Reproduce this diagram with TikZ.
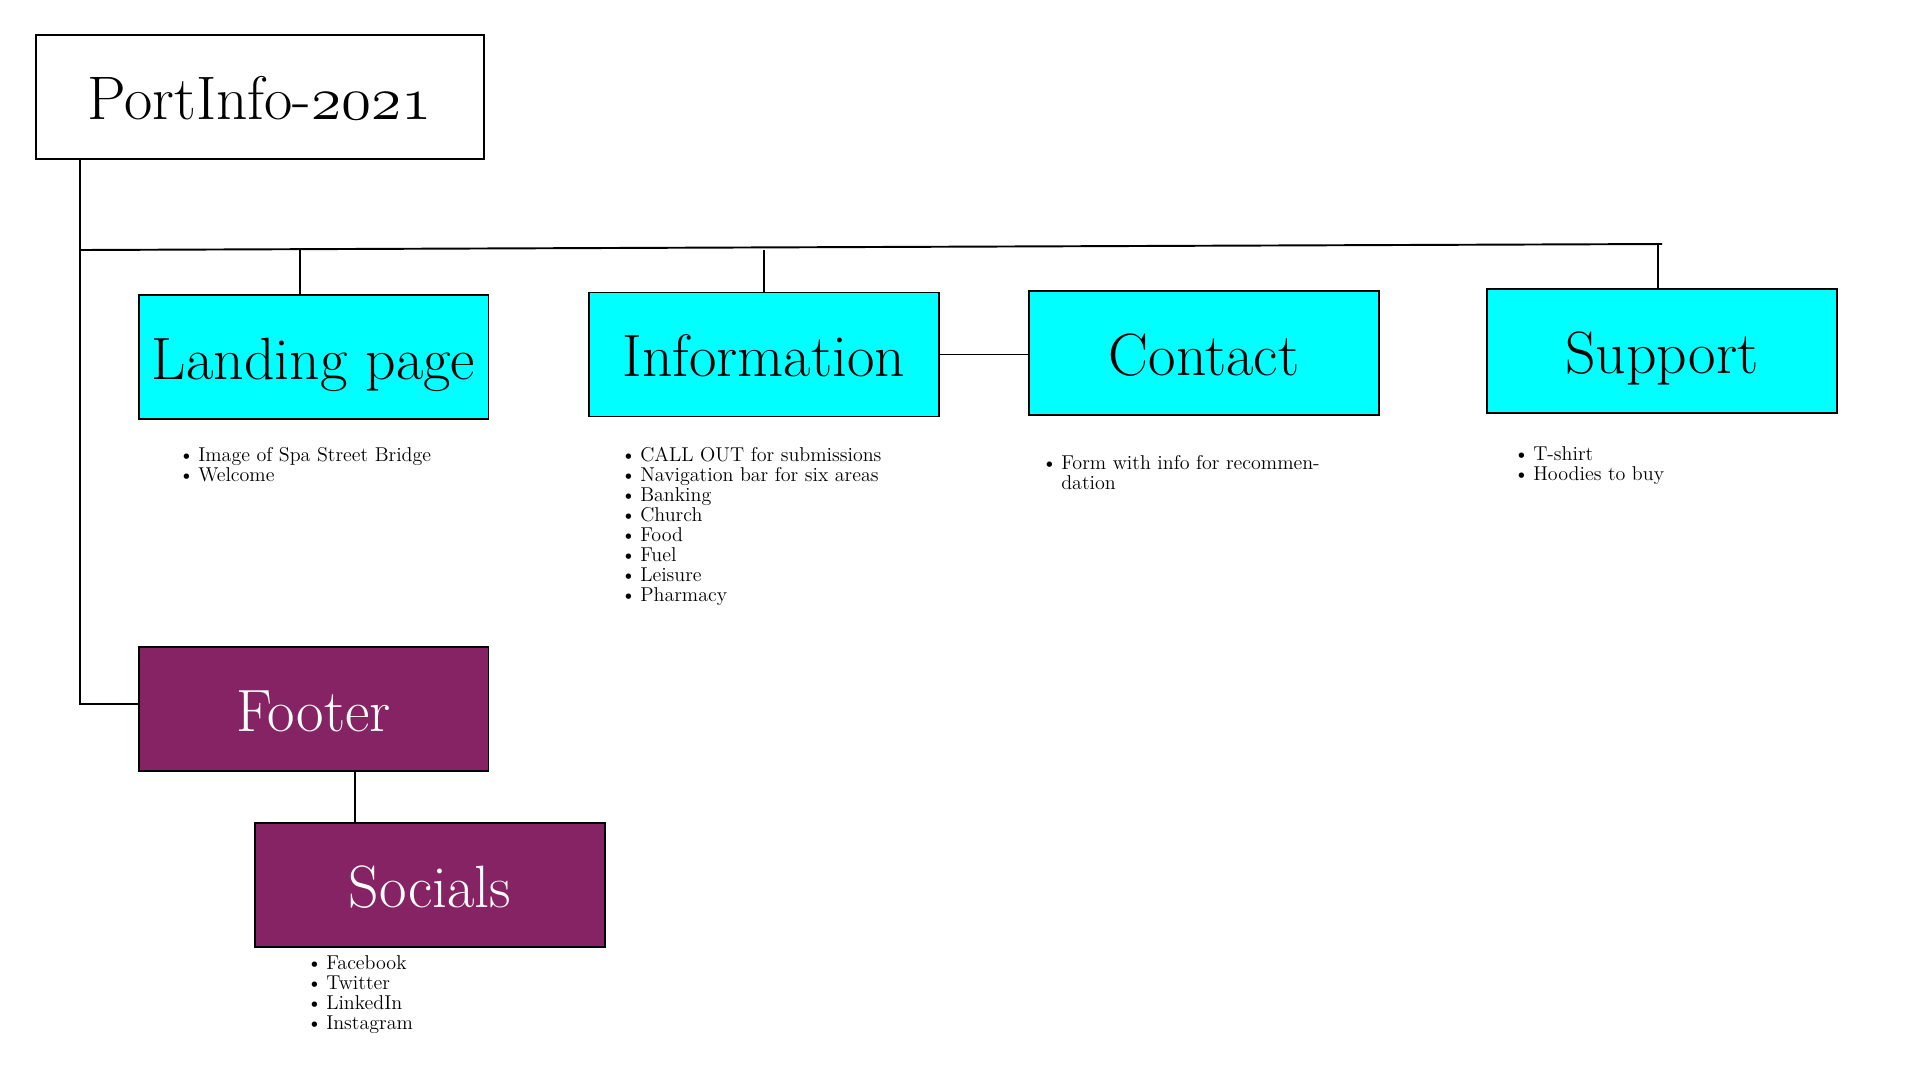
\RequirePackage{fix-cm}
\documentclass[tikz,border=0pt]{standalone}
\definecolor{pagecyan}{RGB}{0, 255, 255}
\definecolor{footplum}{RGB}{134, 35, 100}
\usepackage{tikz}
\usetikzlibrary{positioning, calc}
\newcommand{\itm}{\makebox[11pt][l]{\textbullet}}
\newcommand{\osnum}[1]{{\usefont{OML}{cmm}{m}{it}#1}}

\begin{document}
\begin{tikzpicture}[x=0.02cm, y=-0.02cm, line width=1.1pt,
  sitebox/.style={draw, line width=1.1pt, minimum width=7cm, minimum height=2.48cm,
                  inner sep=0pt, text height=25.5pt, text depth=0pt,
                  font=\fontsize{34}{40}\selectfont},
  pagebox/.style={sitebox, fill=pagecyan},
  footbox/.style={sitebox, fill=footplum, text=white},
  notes/.style={anchor=north west, inner sep=0pt, align=left,
                font=\fontsize{11.4}{11.4}\selectfont},
]
\useasboundingbox (0,0) rectangle (1920,1080);

% Site title
\node[sitebox, minimum width=8.96cm, font=\fontsize{35}{40}\selectfont] (title) at (259.6, 97.4) {PortInfo-\osnum{2021}};

% Pages
\node[pagebox] (land) at (313.5, 357) {Landing page};
\node[pagebox] (info) at (764, 354.5) {Information};
\node[pagebox] (contact) at (1204, 353) {Contact};
\node[pagebox] (support) at (1662, 351) {Support};

% Footer
\node[footbox] (footer) at (313.5, 709) {Footer};
\node[footbox] (socials) at (430, 885) {Socials};

% Page contents
\node[notes] (landnotes) at (178, 446)
{\itm Image of Spa Street Bridge\\ \itm Welcome};
\node[notes] (infonotes) at (620, 446)
{\itm CALL OUT for submissions\\ \itm Navigation bar for six areas\\ \itm Banking\\
 \itm Church\\ \itm Food\\ \itm Fuel\\ \itm Leisure\\ \itm Pharmacy};
\node[notes] (contactnotes) at (1041, 454)
{\itm Form with info for recommen-\\ \makebox[11pt]{}dation};
\node[notes] (supportnotes) at (1513, 446)
{\itm T-shirt\\ \itm Hoodies to buy};
\node[notes] (socialnotes) at (306, 955)
{\itm Facebook\\ \itm Twitter\\ \itm LinkedIn\\ \itm Instagram};

% Connectors
\coordinate (trunk) at (80, 250);
\coordinate (busend) at (1662, 244);
\coordinate (footjoin) at (80, 704);
\draw (title.south -| trunk) -- (footjoin) -- (footjoin -| footer.west);
\draw (trunk) -- (busend);
\draw ([xshift=-0.08cm]support.north) -- ([xshift=-0.08cm]support.north |- busend);
\draw ([xshift=-0.27cm]land.north) -- ([xshift=-0.27cm]land.north |- trunk);
\draw (info.north) -- (info.north |- trunk);
\draw (info.east) -- (info.east -| contact.west);
\draw ([xshift=0.83cm]footer.south) -- ([xshift=0.83cm]footer.south |- socials.north);
\end{tikzpicture}
\end{document}
